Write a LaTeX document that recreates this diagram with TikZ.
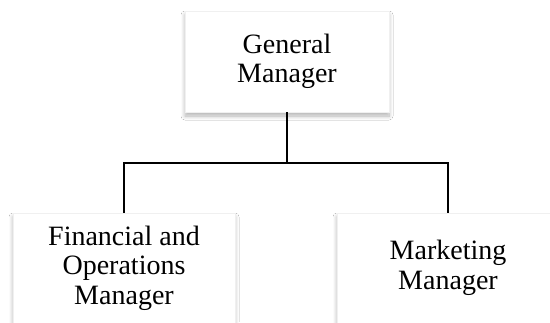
\documentclass[tikz,border=0pt]{standalone}
\usepackage{fontspec}
\setmainfont{Liberation Serif}
\usepackage{tikz}
\usetikzlibrary{calc}
\usetikzlibrary{shadows.blur}

\begin{document}
\begin{tikzpicture}[x=1pt, y=-1pt,
        box_style/.style={rectangle, draw=black!6, fill=white, align=center,
            font=\fontsize{28}{29.5}\selectfont, inner sep=0pt,
            blur shadow={shadow xshift=0pt, shadow yshift=-4pt, shadow blur radius=4pt, shadow blur steps=10, shadow opacity=30}},
        link_style/.style={draw=black, line width=2pt, -}]

        \useasboundingbox[fill=white] (0,0) rectangle (550,322);

        \node [box_style, minimum width=204pt, minimum height=101pt](gm) at (287,61.5) {General\\Manager};
        \node [box_style, minimum width=222pt, minimum height=110pt](fom) at (124,268) {Financial and\\Operations\\Manager};
        \node [box_style, minimum width=222pt, minimum height=110pt](mm) at (448,268) {Marketing\\Manager};
        \coordinate (split) at (287,163);
        \draw [link_style] (gm.south) -- (split);
        \draw [link_style] (fom.north) |- (split) -| (mm.north);
        \end{tikzpicture}
\end{document}
